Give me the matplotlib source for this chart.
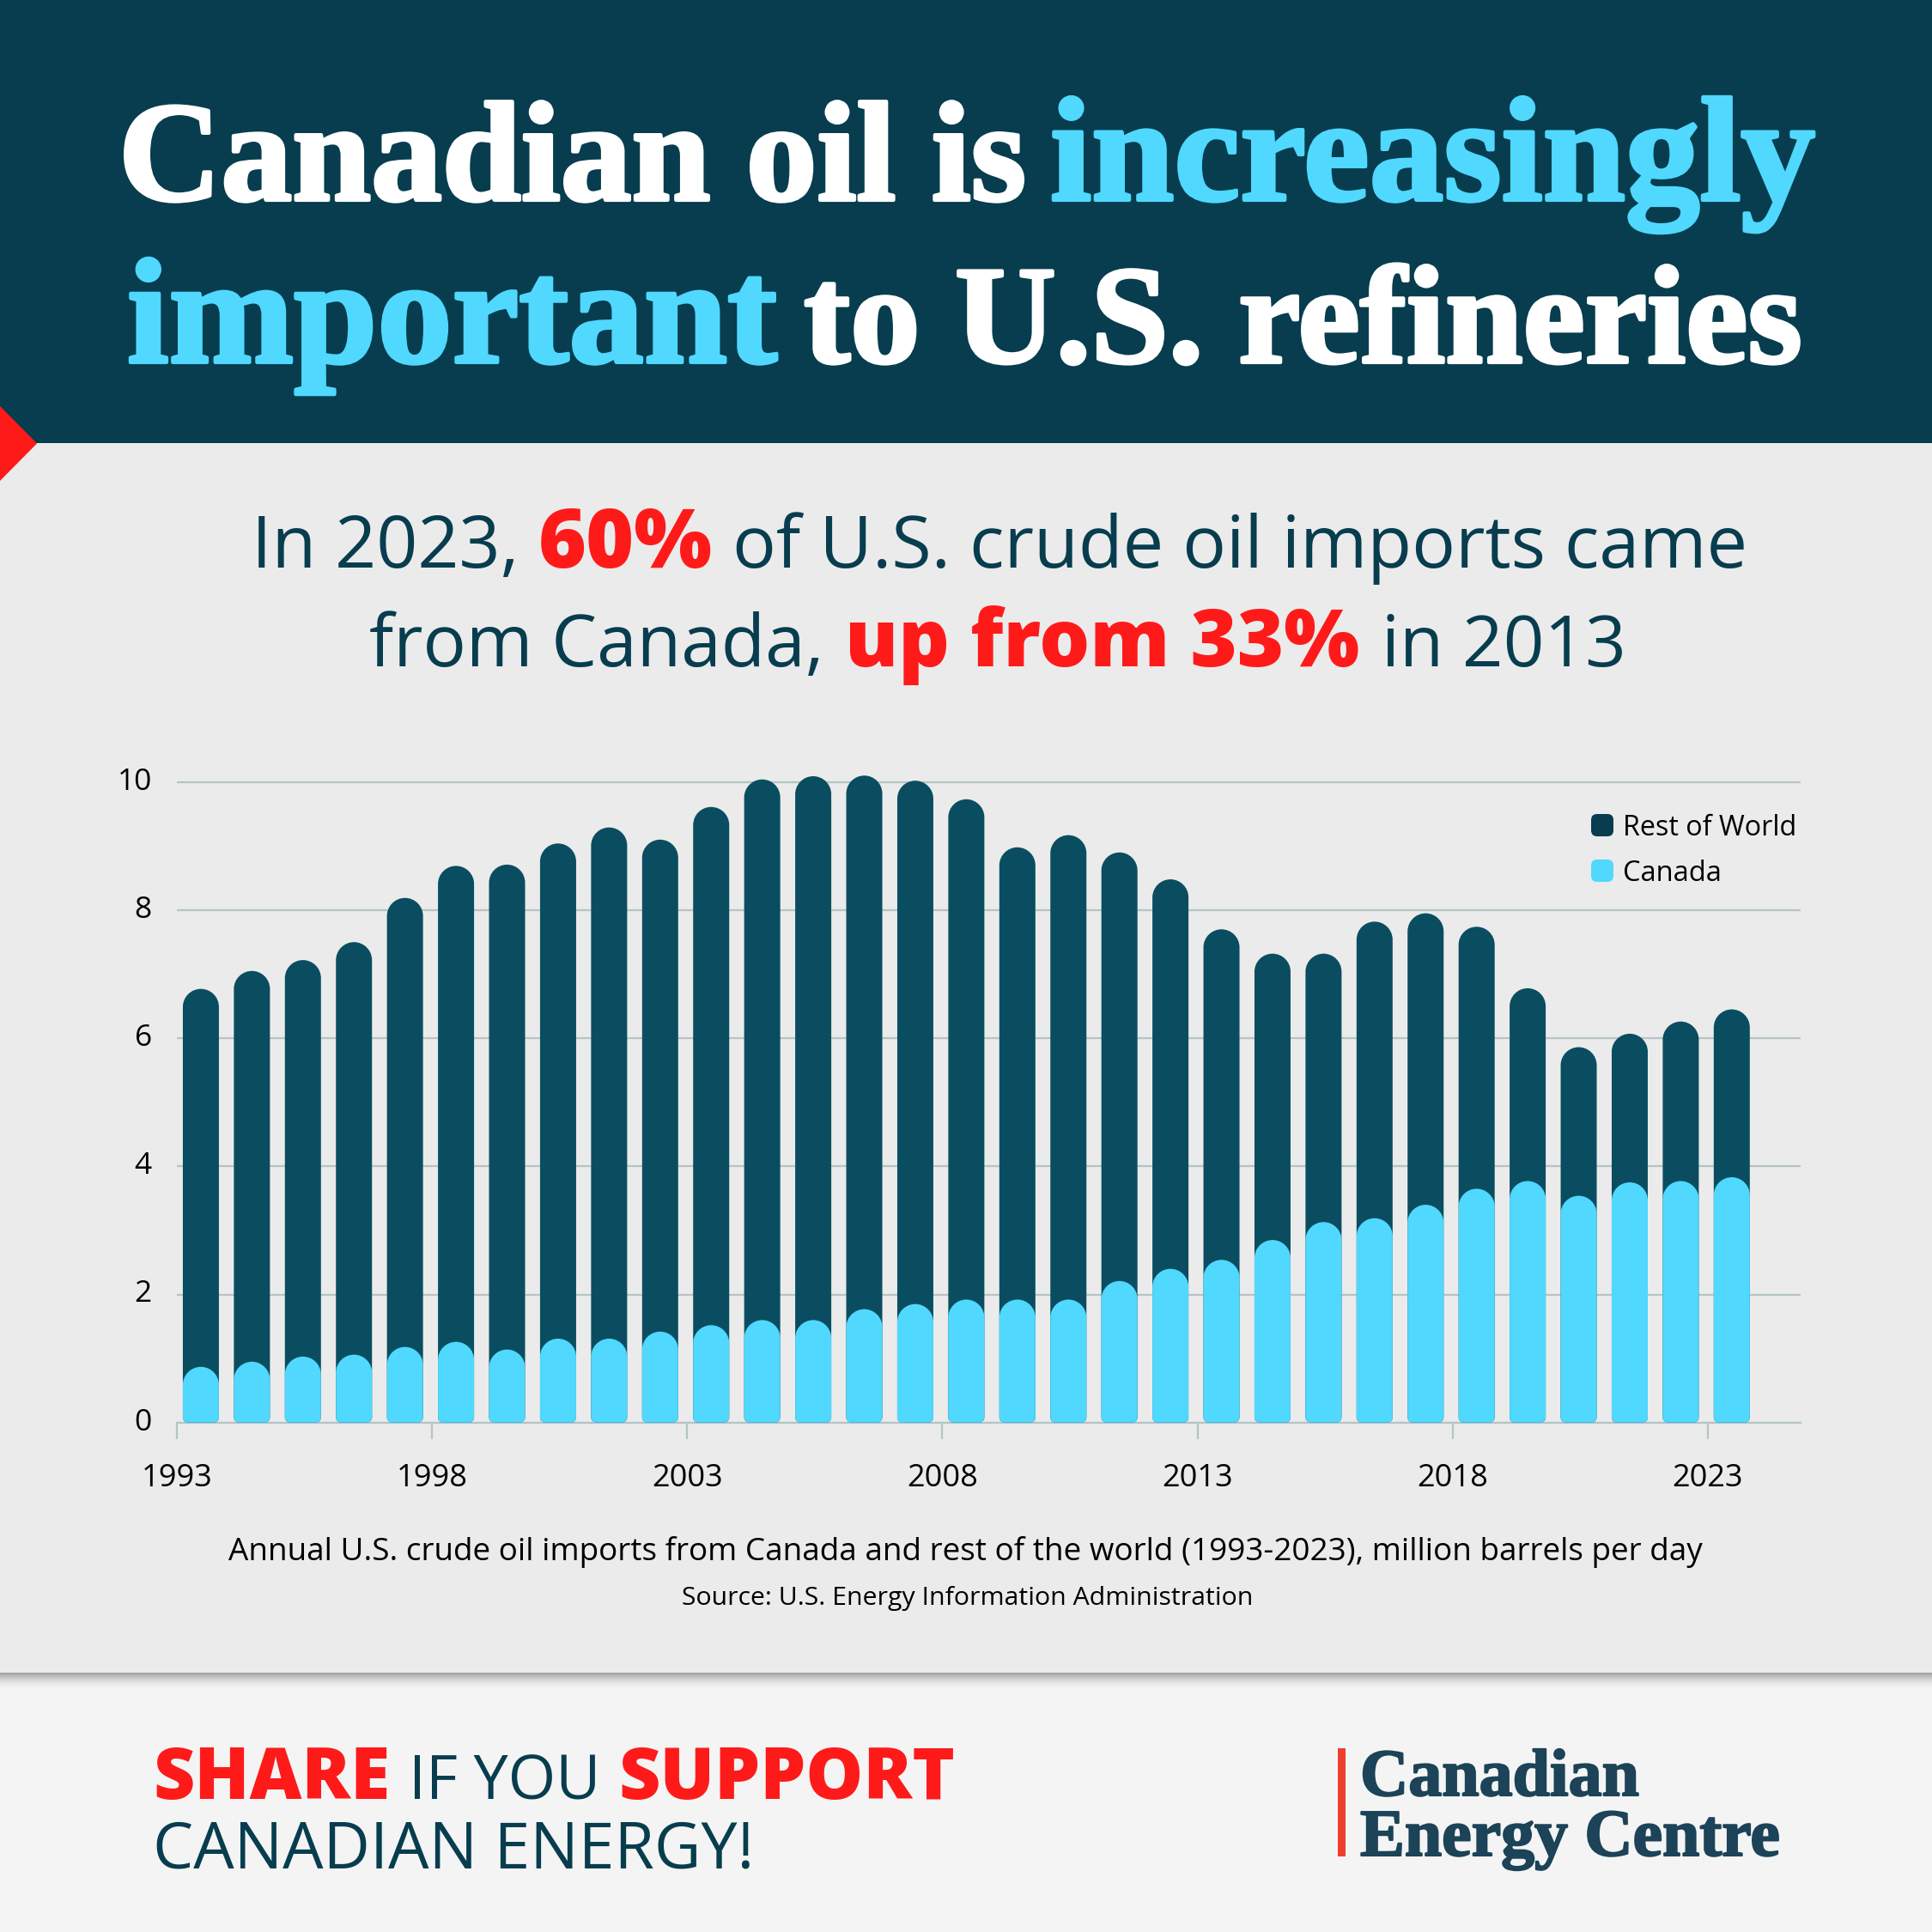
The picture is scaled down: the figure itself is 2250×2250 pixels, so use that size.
import matplotlib
matplotlib.use("Agg")
import matplotlib.pyplot as plt
import matplotlib.transforms as mtrans
import matplotlib.patheffects as pe
from matplotlib.patches import FancyBboxPatch, PathPatch, Polygon, Rectangle
from matplotlib.path import Path

# values, million barrels per day
years = list(range(1993, 2024))
canada = [0.87, 0.95, 1.03, 1.06, 1.18, 1.26, 1.14, 1.31, 1.31, 1.42, 1.52, 1.60, 1.60, 1.77, 1.85, 1.92,
          1.92, 1.92, 2.21, 2.40, 2.54, 2.85, 3.13, 3.19, 3.40, 3.65, 3.77, 3.54, 3.75, 3.77, 3.83]
rest_of_world = [5.90, 6.10, 6.19, 6.44, 7.01, 7.43, 7.57, 7.73, 7.98, 7.68, 8.09, 8.44, 8.49, 8.33, 8.17, 7.81,
                 7.06, 7.25, 6.69, 6.08, 5.16, 4.47, 4.19, 4.63, 4.55, 4.09, 3.01, 2.32, 2.32, 2.49, 2.62]
y_ticks = [0, 2, 4, 6, 8, 10]
x_tick_years = [1993, 1998, 2003, 2008, 2013, 2018, 2023]

DARK = "#073d4e"
BAR_DARK = "#0a4d60"
CYAN = "#50d8ff"
RED = "#ff1a1a"
PANEL = "#ebebeb"
FOOT = "#f4f4f4"
GRID = "#b5c4c6"
LOGO = "#1c4357"
SANS = "Open Sans"
SERIF = "Liberation Serif"

fig = plt.figure(figsize=(22.5, 22.5), dpi=100, facecolor=PANEL)

# page furniture, drawn in pixel coordinates
bg = fig.add_axes([0, 0, 1, 1])
bg.set_xlim(0, 2250)
bg.set_ylim(2250, 0)
bg.axis("off")
bg.add_patch(Rectangle((0, 0), 2250, 516, color=DARK, lw=0))
bg.add_patch(Rectangle((0, 1948), 2250, 302, color=FOOT, lw=0))
bg.add_patch(Polygon([(0, 473), (43, 516.5), (0, 560)], color=RED, lw=0))
# soft shadow under the grey panel
for i in range(20):
    bg.add_patch(Rectangle((0, 1948 + i), 2250, 1, color="#000000", alpha=0.34 * (1 - i / 20) ** 2, lw=0))

fig.canvas.draw()
renderer = fig.canvas.get_renderer()


def fit_text(s, x0, x1, y, color, weight="normal", family=SANS, stroke=0):
    # put one string on a baseline, font size chosen so it spans x0..x1 pixels
    t = bg.text(x0, y, s, color=color, fontsize=100, fontweight=weight, family=family, va="baseline", ha="left", zorder=6)
    t.set_fontsize(100 * (x1 - x0) / t.get_window_extent(renderer).width)
    if stroke:
        t.set_path_effects([pe.withStroke(linewidth=stroke, foreground=color)])
    return t


# header
fit_text("Canadian oil is", 138, 1195, 233, "white", "bold", SERIF, 3)
fit_text("increasingly", 1223, 2114, 233, CYAN, "bold", SERIF, 3)
fit_text("important", 148, 905, 422, CYAN, "bold", SERIF, 3)
fit_text("to U.S. refineries", 936, 2099, 422, "white", "bold", SERIF, 3)

# subtitle
fit_text("In 2023,", 293, 605, 661, DARK)
fit_text("60%", 627, 830, 661, RED, 800)
fit_text("of U.S. crude oil imports came", 853, 2035, 661, DARK)
fit_text("from Canada,", 430, 960, 776, DARK)
fit_text("up from 33%", 984, 1583, 776, RED, 800)
fit_text("in 2013", 1609, 1894, 776, DARK)

# chart
px_per_year = 59.43
px_per_unit = 74.6
left, right, bottom_px = 206, 2097, 1656.7
ymax = 10.2
ax = fig.add_axes([left / 2250, 1 - bottom_px / 2250, (right - left) / 2250, ymax * px_per_unit / 2250])
ax.patch.set_alpha(0)
ax.set_xlim(1992.53, 1992.53 + (right - left) / px_per_year)
ax.set_ylim(0, ymax)
for s in ["top", "left", "right"]:
    ax.spines[s].set_visible(False)
ax.spines["bottom"].set_color(GRID)
ax.spines["bottom"].set_linewidth(1.6)
ax.set_yticks(y_ticks)
ax.set_yticklabels([str(v) for v in y_ticks], fontsize=25.5, family=SANS, color="black")
ax.tick_params(axis="y", length=0, pad=21)
# the reference's y labels sit a little above their gridlines
nudge = mtrans.ScaledTranslation(0, 4 / 100, fig.dpi_scale_trans)
for lab in ax.get_yticklabels():
    lab.set_transform(lab.get_transform() + nudge)
ax.set_xticks([y - 0.47 for y in x_tick_years])
ax.set_xticklabels([str(y) for y in x_tick_years], fontsize=26, family=SANS, color="black")
ax.tick_params(axis="x", length=14, width=1.6, color=GRID, pad=20)
ax.set_axisbelow(True)
ax.grid(axis="y", color=GRID, lw=1.6)
ax.grid(axis="x", visible=False)


def round_top_bar(x, top, color, zorder):
    # bar with a fully rounded top and barely rounded foot, radii given in pixels
    w = 42 / px_per_year / 2
    rx, ry = w, 21 / px_per_unit
    bx, by = 6 / px_per_year, 6 / px_per_unit
    k = 0.5523
    verts = [(x - w + bx, 0), (x + w - bx, 0),
             (x + w - bx * (1 - k), 0), (x + w, by * (1 - k)), (x + w, by),
             (x + w, top - ry),
             (x + w, top - ry + ry * k), (x + rx * k, top), (x, top),
             (x - rx * k, top), (x - w, top - ry + ry * k), (x - w, top - ry),
             (x - w, by),
             (x - w, by * (1 - k)), (x - w + bx * (1 - k), 0), (x - w + bx, 0),
             (x - w + bx, 0)]
    codes = [Path.MOVETO, Path.LINETO, Path.CURVE4, Path.CURVE4, Path.CURVE4, Path.LINETO,
             Path.CURVE4, Path.CURVE4, Path.CURVE4, Path.CURVE4, Path.CURVE4, Path.CURVE4,
             Path.LINETO, Path.CURVE4, Path.CURVE4, Path.CURVE4, Path.CLOSEPOLY]
    ax.add_patch(PathPatch(Path(verts, codes), facecolor=color, edgecolor="none", zorder=zorder))


for yr, c, o in zip(years, canada, rest_of_world):
    round_top_bar(yr, c + o, BAR_DARK, 3)
    round_top_bar(yr, c, CYAN, 4)

# legend, on top of the chart axes
top = fig.add_axes([0, 0, 1, 1])
top.set_xlim(0, 2250)
top.set_ylim(2250, 0)
top.axis("off")
for y0, col in [(948, DARK), (1001, CYAN)]:
    top.add_patch(FancyBboxPatch((1859, y0 + 6), 14, 14, boxstyle="round,pad=6,rounding_size=7", fc=col, ec="none"))
fit_text("Rest of World", 1890, 2093, 973, "black")
fit_text("Canada", 1890, 2005, 1026, "black")

# caption
fit_text("Annual U.S. crude oil imports from Canada and rest of the world (1993-2023), million barrels per day",
         266, 1985, 1817, "black")
fit_text("Source: U.S. Energy Information Administration", 794, 1457, 1869, "black")

# footer
fit_text("SHARE", 178, 454, 2095, RED, 800)
fit_text("IF YOU", 476, 699, 2095, DARK)
fit_text("SUPPORT", 720, 1112, 2095, RED, 800)
fit_text("CANADIAN ENERGY!", 178, 878, 2176, DARK)
bg.add_patch(Rectangle((1558, 2036), 9, 126, color="#ef3e2d", lw=0))
fit_text("Canadian", 1584, 1909, 2091, LOGO, "bold", SERIF, 1.5)
fit_text("Energy Centre", 1584, 2073, 2161, LOGO, "bold", SERIF, 1.5)

fig.savefig("out.png", dpi=100, facecolor=PANEL)
